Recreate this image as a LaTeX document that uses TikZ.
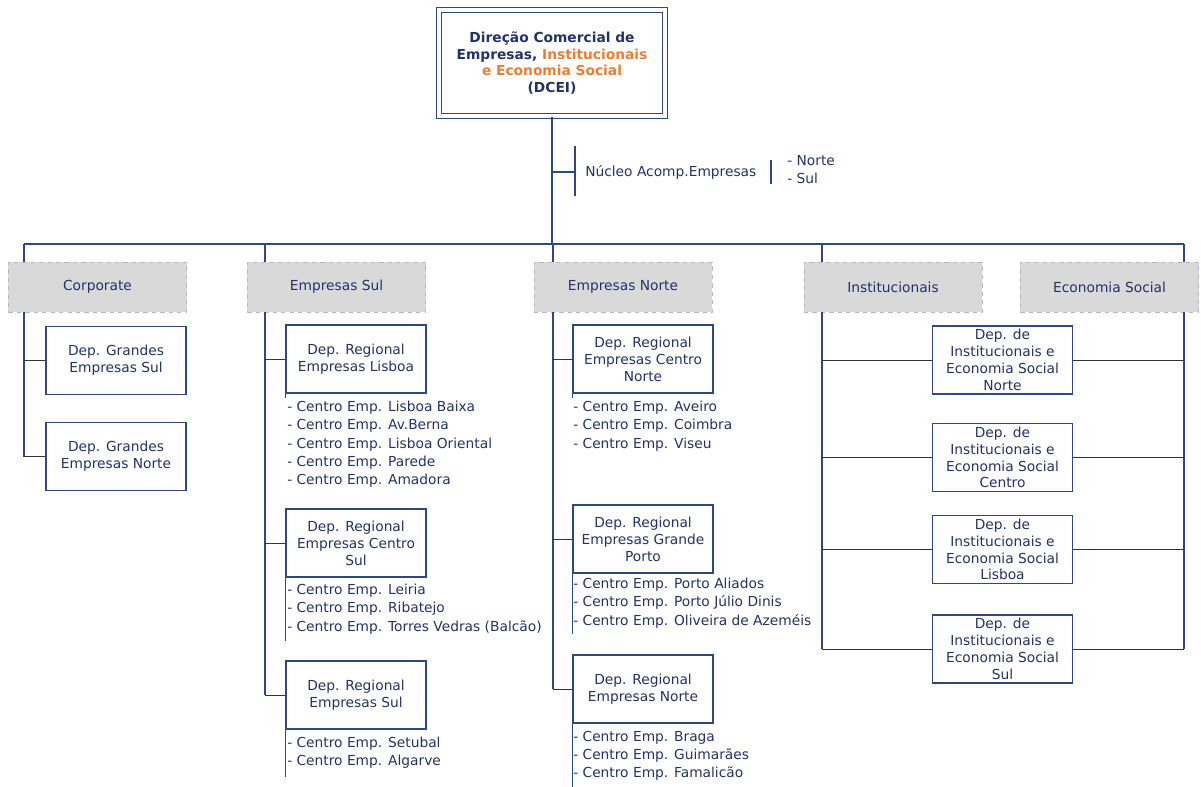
\documentclass[tikz,border=0pt]{standalone}
\usepackage{fontspec}
\setmainfont{DejaVu Sans}
\definecolor{navy}{RGB}{47,72,128}
\definecolor{txtblue}{RGB}{35,50,105}
\definecolor{orng}{RGB}{237,125,49}
\definecolor{grayfill}{RGB}{217,217,217}
\definecolor{graydash}{RGB}{185,185,185}
\tikzset{
  every node/.style={text=txtblue, font=\fontsize{9.8}{12}\selectfont},
  topbox/.style={draw=navy, double=white, double distance=2.5pt, line width=1pt,
    align=center, minimum width=5.65cm, minimum height=2.65cm,
    font=\bfseries\fontsize{9.8}{12}\selectfont},
  areabox/.style={fill=grayfill, draw=graydash, dashed, minimum width=4.45cm, minimum height=1.25cm},
  depbox/.style={draw=navy, line width=0.9pt, fill=white, align=center,
    minimum width=3.5cm, minimum height=1.7cm, inner sep=1pt},
  itemlist/.style={align=left, anchor=north west, inner sep=0pt, font=\fontsize{9.8}{12.9}\selectfont},
  bus/.style={draw=navy, line width=0.9pt},
  stub/.style={draw=black!80, line width=0.7pt},
  listline/.style={draw=navy, line width=0.6pt}
}
\begin{document}
\begin{tikzpicture}[x=0.025cm,y=-0.025cm]
\useasboundingbox (0,0) rectangle (1201,787);

% direcao
\node[topbox] (dcei) at (552,63) {Direção Comercial de\\Empresas, {\color{orng}Institucionais}\\{\color{orng}e Economia Social}\\(DCEI)};

% nucleo de acompanhamento
\coordinate (nbar) at (575,172);
\node[anchor=west, inner sep=0pt] (nucleo) at (585,172) {Núcleo Acomp.Empresas};
\node[anchor=west, align=left, inner sep=0pt, font=\fontsize{9.8}{12.9}\selectfont] (regioes) at (787,170) {- Norte\\- Sul};
\draw[bus] (dcei.south |- nbar) -- (nbar);
\draw[bus] (575,146) -- (575,196);
\draw[bus] (771,160) -- (771,184);

% barramento
\coordinate (sp1) at (24,244);
\coordinate (sp2) at (265,244);
\coordinate (sp3) at (553,244);
\coordinate (sp4) at (822,244);
\coordinate (sp5) at (1184,244);
\draw[bus] (dcei.south) -- (dcei.south |- sp1);
\draw[bus] (sp1) -- (sp5);

% areas
\node[areabox] (corp) at (97.5,287) {Corporate};
\node[areabox] (esul) at (336.5,287) {Empresas Sul};
\node[areabox] (enorte) at (623,287) {Empresas Norte};
\node[areabox] (inst) at (893,287) {Institucionais};
\node[areabox] (econ) at (1109.5,287) {Economia Social};
\draw[bus] (sp1) -- (sp1 |- corp.north);
\draw[bus] (sp2) -- (sp2 |- esul.north);
\draw[bus] (sp3) -- (sp3 |- enorte.north);
\draw[bus] (sp4) -- (sp4 |- inst.north);
\draw[bus] (sp5) -- (sp5 |- econ.north);

% corporate
\node[depbox] (gsul) at (116,360.5) {Dep. Grandes\\Empresas Sul};
\node[depbox] (gnorte) at (116,456.5) {Dep. Grandes\\Empresas Norte};
\draw[bus] (sp1 |- corp.south) -- (sp1 |- gnorte);
\draw[stub] (sp1 |- gsul) -- (gsul.west);
\draw[stub] (sp1 |- gnorte) -- (gnorte.west);

% empresas sul
\node[depbox] (rlisboa) at (356,359) {Dep. Regional\\Empresas Lisboa};
\node[depbox] (rcsul) at (356,543) {Dep. Regional\\Empresas Centro\\Sul};
\node[depbox] (rsul) at (356,695) {Dep. Regional\\Empresas Sul};
\draw[bus] (sp2 |- esul.south) -- (sp2 |- rsul);
\draw[stub] (sp2 |- rlisboa) -- (rlisboa.west);
\draw[stub] (sp2 |- rcsul) -- (rcsul.west);
\draw[stub] (sp2 |- rsul) -- (rsul.west);
\node[itemlist] (llisboa) at (287,401) {- Centro Emp. Lisboa Baixa\\- Centro Emp. Av.Berna\\- Centro Emp. Lisboa Oriental\\- Centro Emp. Parede\\- Centro Emp. Amadora};
\node[itemlist] (lcsul) at (287,584) {- Centro Emp. Leiria\\- Centro Emp. Ribatejo\\- Centro Emp. Torres Vedras (Balcão)};
\node[itemlist] (lsul) at (287,737) {- Centro Emp. Setubal\\- Centro Emp. Algarve};
\draw[listline] (rlisboa.south west) -- ++(0,4);
\draw[listline] (rcsul.south west) -- ++(0,63);
\draw[listline] (rsul.south west) -- ++(0,47);

% empresas norte
\node[depbox] (rcnorte) at (643,359) {Dep. Regional\\Empresas Centro\\Norte};
\node[depbox] (rporto) at (643,539) {Dep. Regional\\Empresas Grande\\Porto};
\node[depbox] (rnorte) at (643,689) {Dep. Regional\\Empresas Norte};
\draw[bus] (sp3 |- enorte.south) -- (sp3 |- rnorte);
\draw[stub] (sp3 |- rcnorte) -- (rcnorte.west);
\draw[stub] (sp3 |- rporto) -- (rporto.west);
\draw[stub] (sp3 |- rnorte) -- (rnorte.west);
\node[itemlist] (lcnorte) at (573,401) {- Centro Emp. Aveiro\\- Centro Emp. Coimbra\\- Centro Emp. Viseu};
\node[itemlist] (lporto) at (573,578) {- Centro Emp. Porto Aliados\\- Centro Emp. Porto Júlio Dinis\\- Centro Emp. Oliveira de Azeméis};
\node[itemlist] (lnorte) at (573,731) {- Centro Emp. Braga\\- Centro Emp. Guimarães\\- Centro Emp. Famalicão};
\draw[listline] (rcnorte.south west) -- ++(0,4);
\draw[listline] (rporto.south west) -- ++(0,60);
\draw[listline] (rnorte.south west) -- ++(0,64);

% institucionais e economia social
\node[depbox] (inorte) at (1002.5,360) {Dep. de\\Institucionais e\\Economia Social\\Norte};
\node[depbox] (icentro) at (1002.5,457.5) {Dep. de\\Institucionais e\\Economia Social\\Centro};
\node[depbox] (ilisboa) at (1002.5,549.5) {Dep. de\\Institucionais e\\Economia Social\\Lisboa};
\node[depbox] (isul) at (1002.5,649) {Dep. de\\Institucionais e\\Economia Social\\Sul};
\draw[bus] (sp4 |- inst.south) -- (sp4 |- isul);
\draw[bus] (sp5 |- econ.south) -- (sp5 |- isul);
\draw[stub] (sp4 |- inorte) -- (inorte.west);
\draw[stub] (sp4 |- icentro) -- (icentro.west);
\draw[stub] (sp4 |- ilisboa) -- (ilisboa.west);
\draw[stub] (sp4 |- isul) -- (isul.west);
\draw[stub] (inorte.east) -- (sp5 |- inorte);
\draw[stub] (icentro.east) -- (sp5 |- icentro);
\draw[stub] (ilisboa.east) -- (sp5 |- ilisboa);
\draw[stub] (isul.east) -- (sp5 |- isul);
\end{tikzpicture}
\end{document}
